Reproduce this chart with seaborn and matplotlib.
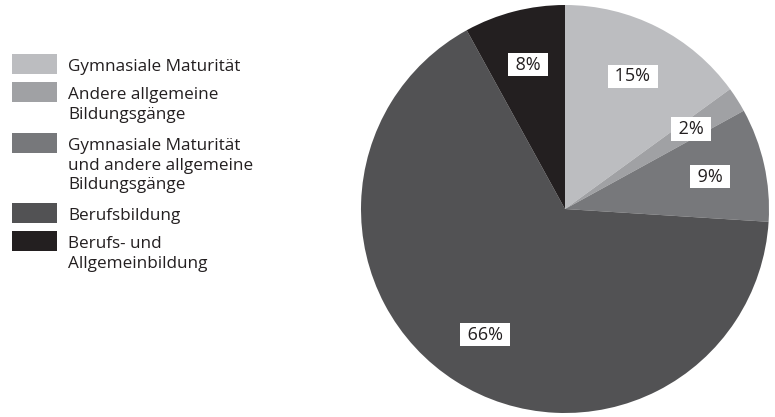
import matplotlib
matplotlib.use("Agg")
import matplotlib.pyplot as plt
from matplotlib.patches import Rectangle
import seaborn as sns

categories = [
    "Gymnasiale Maturität",
    "Andere allgemeine\nBildungsgänge",
    "Gymnasiale Maturität\nund andere allgemeine\nBildungsgänge",
    "Berufsbildung",
    "Berufs- und\nAllgemeinbildung",
]
shares = [15, 2, 9, 66, 8]
colors = ["#bcbdc0", "#a0a1a4", "#77787b", "#525254", "#231f20"]

sns.set_style("white")
plt.rcParams["font.family"] = ["Open Sans", "DejaVu Sans"]

W, H = 775, 417
fig = plt.figure(figsize=(W / 100, H / 100), dpi=100)

# pie axes: centre (565, 209) px, radius 204 px
cx, cy, r = 565, 209, 204
ax = fig.add_axes([(cx - r) / W, (H - cy - r) / H, 2 * r / W, 2 * r / H])
wedges, texts, autotexts = ax.pie(
    shares,
    colors=colors,
    startangle=90,
    counterclock=False,
    autopct=lambda p: f" {p:.0f}% ",
    pctdistance=0.73,
    wedgeprops=dict(linewidth=0),
    textprops=dict(fontsize=13, color="#231f20"),
)
for t in autotexts:
    t.set_bbox(dict(facecolor="white", edgecolor="none", boxstyle="square,pad=0.15"))
ax.set_xlim(-1, 1)
ax.set_ylim(-1, 1)
ax.set_aspect("auto")
ax.axis("off")

# legend drawn in pixel layout
box_x, box_w, box_h = 12, 45, 20
text_x = 68
tops = [54, 82, 133, 203, 231]
for label, col, top in zip(categories, colors, tops):
    fig.patches.append(Rectangle((box_x / W, (H - top - box_h) / H), box_w / W, box_h / H,
                                 transform=fig.transFigure, facecolor=col, edgecolor="none"))
    fig.text(text_x / W, (H - top - 5) / H, label, ha="left", va="top",
             fontsize=12.3, color="#231f20", linespacing=1.3)

fig.savefig("out.png", dpi=100)
